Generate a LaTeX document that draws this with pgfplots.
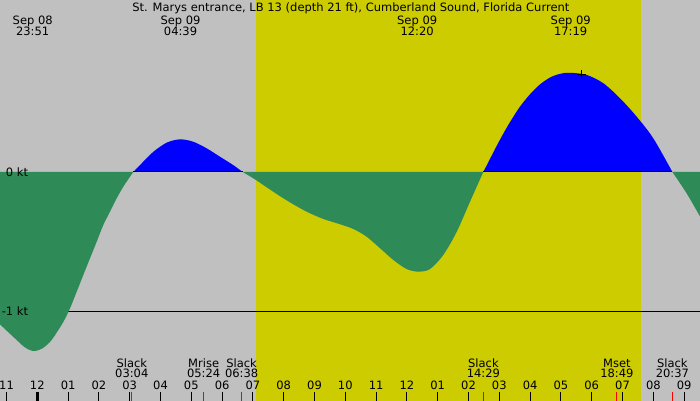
\documentclass[border=0pt]{standalone}
\usepackage{pgfplots}
\pgfplotsset{compat=1.18}
\usepackage{fontspec}
\setmainfont{DejaVu Sans}
\definecolor{bg}{HTML}{C0C0C0}
\definecolor{day}{HTML}{CCCC00}
\definecolor{ebb}{HTML}{2E8B57}
\definecolor{flood}{HTML}{0000FF}

\begin{document}
\fontsize{11.5}{13}\selectfont
\begin{tikzpicture}[lab/.style={anchor=base, inner sep=0pt, font=\fontsize{11.5}{13}\selectfont}]
\begin{axis}[
    scale only axis,
    width=700pt, height=400pt,
    xmin=-1.2114, xmax=21.516,
    ymin=-1.6403, ymax=1.2374,
    axis lines=none,
    clip=true,
    unbounded coords=jump,
]
% background and daylight
\addplot[fill=bg, draw=none] coordinates {(-2,-2) (-2,2) (22,2) (22,-2)} -- cycle;
\addplot[fill=day, draw=none] coordinates {(7.10,-2) (7.10,2) (19.60,2) (19.60,-2)} -- cycle;

% -1 kt line
\addplot[black, line width=1pt] coordinates {(-2,-1) (22,-1)};

% ebb (green)
\addplot[fill=ebb, draw=none, smooth] coordinates {
 (-1.25,-1.08) (-1.211,-1.096) (-0.669,-1.209) (-0.40,-1.262) (-0.130,-1.288)
 (0.143,-1.272) (0.412,-1.223) (0.630,-1.155) (0.844,-1.079) (1.062,-0.981)
 (1.279,-0.861) (1.494,-0.741) (1.711,-0.621) (1.929,-0.501) (2.143,-0.381)
 (2.360,-0.286) (2.578,-0.189) (2.792,-0.106) (3.010,-0.034) (3.117,0)} \closedcycle;
\addplot[fill=ebb, draw=none, smooth] coordinates {
 (6.67,0) (7.10,-0.058) (7.66,-0.142) (8.20,-0.218) (8.75,-0.286) (9.29,-0.338)
 (9.83,-0.376) (10.26,-0.410) (10.69,-0.465) (11.13,-0.549) (11.56,-0.633)
 (11.99,-0.698) (12.37,-0.717) (12.75,-0.698) (13.18,-0.597) (13.62,-0.429)
 (14.05,-0.213) (14.48,0)} \closedcycle;
\addplot[fill=ebb, draw=none, smooth] coordinates {
 (20.62,0) (21.08,-0.153) (21.52,-0.321) (21.60,-0.35)} \closedcycle;

% flood (blue)
\addplot[fill=flood, draw=none, smooth] coordinates {
 (3.117,0) (3.44,0.074) (3.77,0.146) (4.20,0.211) (4.63,0.235) (5.06,0.218)
 (5.50,0.170) (5.93,0.110) (6.36,0.050) (6.67,0)} \closedcycle;
\addplot[fill=flood, draw=none, smooth] coordinates {
 (14.48,0) (14.70,0.095) (14.92,0.190) (15.14,0.280) (15.35,0.360) (15.67,0.470)
 (16.00,0.560) (16.32,0.630) (16.65,0.680) (16.97,0.706) (17.29,0.714)
 (17.84,0.698) (18.38,0.638) (18.92,0.530) (19.46,0.398) (20.00,0.242)
 (20.62,0)} \closedcycle;

% zero line under flood
\addplot[black, line width=1pt] coordinates {(3.117,0) (6.67,0) (6.67,nan) (14.48,0) (20.62,0)};

% marker
\addplot[only marks, mark=+, mark size=4.5pt, black, line width=0.8pt] coordinates {(17.676,0.703)};

% hour ticks
\addplot[black, line width=1pt] coordinates {
 (-1,-1.5827) (-1,-1.7) (-1,nan) (1,-1.5827) (1,-1.7) (1,nan)
 (2,-1.5827) (2,-1.7) (2,nan) (3,-1.5827) (3,-1.7) (3,nan)
 (4,-1.5827) (4,-1.7) (4,nan) (5,-1.5827) (5,-1.7) (5,nan)
 (6,-1.5827) (6,-1.7) (6,nan) (7,-1.5827) (7,-1.7) (7,nan)
 (8,-1.5827) (8,-1.7) (8,nan) (9,-1.5827) (9,-1.7) (9,nan)
 (10,-1.5827) (10,-1.7) (10,nan) (11,-1.5827) (11,-1.7) (11,nan)
 (12,-1.5827) (12,-1.7) (12,nan) (13,-1.5827) (13,-1.7) (13,nan)
 (14,-1.5827) (14,-1.7) (14,nan) (15,-1.5827) (15,-1.7) (15,nan)
 (16,-1.5827) (16,-1.7) (16,nan) (17,-1.5827) (17,-1.7) (17,nan)
 (18,-1.5827) (18,-1.7) (18,nan) (19,-1.5827) (19,-1.7) (19,nan)
 (20,-1.5827) (20,-1.7) (20,nan) (21,-1.5827) (21,-1.7)};
\addplot[black, line width=3pt] coordinates {(0,-1.5827) (0,-1.7)};
% event ticks
\addplot[red, line width=1pt] coordinates {
 (3.067,-1.5827) (3.067,-1.7) (3.067,nan) (5.40,-1.5827) (5.40,-1.7) (5.40,nan)
 (6.633,-1.5827) (6.633,-1.7) (6.633,nan) (14.483,-1.5827) (14.483,-1.7) (14.483,nan)
 (18.817,-1.5827) (18.817,-1.7) (18.817,nan) (20.617,-1.5827) (20.617,-1.7)};

% hour labels
\foreach \h/\t in {-1/11,0/12,1/01,2/02,3/03,4/04,5/05,6/06,7/07,8/08,9/09,10/10,11/11,
  12/12,13/01,14/02,15/03,16/04,17/05,18/06,19/07,20/08,21/09}{
  \edef\temp{\noexpand\node[lab] at (axis cs:\h,-1.5683) {\t};}
  \temp
}

% title and extreme labels
\node[lab] at (axis cs:10.18,1.1511) {St. Marys entrance, LB 13 (depth 21 ft), Cumberland Sound, Florida Current};
\node[lab] at (axis cs:-0.15,1.0612) {Sep 08};
\node[lab] at (axis cs:-0.15,0.9784) {23:51};
\node[lab] at (axis cs:4.65,1.0612) {Sep 09};
\node[lab] at (axis cs:4.65,0.9784) {04:39};
\node[lab] at (axis cs:12.333,1.0612) {Sep 09};
\node[lab] at (axis cs:12.333,0.9784) {12:20};
\node[lab] at (axis cs:17.317,1.0612) {Sep 09};
\node[lab] at (axis cs:17.317,0.9784) {17:19};

% event labels
\node[lab] at (axis cs:3.067,-1.4029) {Slack};
\node[lab] at (axis cs:3.067,-1.4784) {03:04};
\node[lab] at (axis cs:5.40,-1.4029) {Mrise};
\node[lab] at (axis cs:5.40,-1.4784) {05:24};
\node[lab] at (axis cs:6.633,-1.4029) {Slack};
\node[lab] at (axis cs:6.633,-1.4784) {06:38};
\node[lab] at (axis cs:14.483,-1.4029) {Slack};
\node[lab] at (axis cs:14.483,-1.4784) {14:29};
\node[lab] at (axis cs:18.817,-1.4029) {Mset};
\node[lab] at (axis cs:18.817,-1.4784) {18:49};
\node[lab] at (axis cs:20.617,-1.4029) {Slack};
\node[lab] at (axis cs:20.617,-1.4784) {20:37};

% y labels
\node[lab, anchor=base east] at (axis cs:-0.292,-0.0338) {0 kt};
\node[lab, anchor=base east] at (axis cs:-0.292,-1.0338) {-1 kt};
\end{axis}
\end{tikzpicture}
\end{document}
